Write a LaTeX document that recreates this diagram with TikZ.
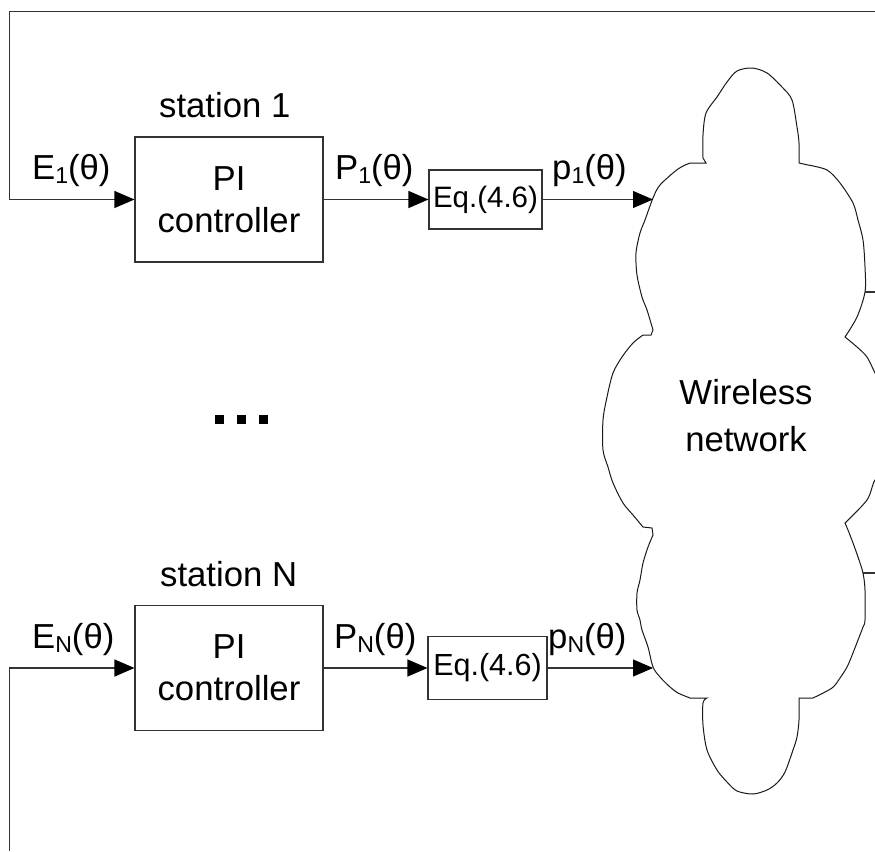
\documentclass[tikz,border=0pt]{standalone}
\usepackage{fontspec}
\setmainfont{Liberation Sans}
\usetikzlibrary{arrows.meta}
\newcommand\lowsub[1]{\raisebox{-0.14em}{\fontsize{23}{23}\selectfont #1}}
\tikzset{
  ln/.style={draw=black!80, line width=1.1pt},
  arr/.style={ln, -{Triangle[length=20pt,width=17pt,black]}},
  lab/.style={inner sep=0pt, font=\fontsize{34.7}{42}\selectfont},
  pibox/.style={ln, rectangle, minimum width=188pt, minimum height=125pt,
    inner sep=0pt, align=center, font=\fontsize{34.7}{42}\selectfont},
  eqbox/.style={ln, rectangle, inner sep=0pt}
}
\begin{document}
\begin{tikzpicture}[x=1pt, y=-1pt]
\useasboundingbox (0,0) rectangle (875,851);
\fill[white] (0,0) rectangle (875,851);
\clip (0,0) rectangle (875,851);

% cloud: wireless network
\draw[black!90, line width=1pt]
  (706,163) -- (703,158)
  -- plot[smooth, tension=0.5] coordinates {(703,158) (703,135) (706,113) (717,97) (727,82) (737,71) (752,68) (767,73) (782,87) (792,100) (797,127) (799,143) (799,163)}
  -- plot[smooth, tension=0.5] coordinates {(808,165) (827,170) (840,183) (853,203) (858,220) (863,240) (865,267) (865,292) (857,317) (845,337)}
  -- plot[smooth, tension=0.5] coordinates {(845,337) (857,347) (867,357) (875,373) (886,395) (896,420) (898,450) (888,470) (875,480) (867,500) (845,523)}
  -- plot[smooth, tension=0.5] coordinates {(845,523) (848,530) (853,543) (858,557) (863,573) (865,590) (865,620) (863,627) (858,640) (848,665) (840,678) (832,688) (813,698)}
  -- plot[smooth, tension=0.5] coordinates {(799,698) (799,720) (797,737) (793,750) (785,772) (777,783) (767,790) (753,794) (737,791) (727,782) (717,770) (707,750) (703,725) (703,703) (707,698)}
  -- plot[smooth, tension=0.5] coordinates {(690,698) (678,693) (670,687) (660,677) (653,667) (648,647) (642,630) (640,620) (637,610) (637,593) (640,580) (643,563) (648,547) (653,535)}
  -- (652,528)
  -- plot[smooth, tension=0.5] coordinates {(643,527) (633,515) (623,503) (613,483) (608,467) (603,450) (603,420) (607,397) (613,373) (622,357) (633,343) (643,335)}
  -- (651,335)
  -- plot[smooth, tension=0.5] coordinates {(653,330) (647,310) (642,297) (637,275) (636,253) (640,233) (645,220) (653,198) (660,185) (678,169) (690,163)}
  -- cycle;
\node[lab, align=center, font=\fontsize{34.7}{47}\selectfont] (net) at (746,416) {Wireless\\network};

% points where the arrows meet the cloud, and its outputs
\coordinate (in1) at (653,199.5);
\coordinate (inN) at (653,668);
\coordinate (out1) at (865,292);
\coordinate (out1r) at (875,292);
\coordinate (outN) at (863,573);
\coordinate (outNr) at (875,573);
\draw[ln] (out1) -- (out1r);
\draw[ln] (outN) -- (outNr);

% station 1
\node[pibox] (pi1) at (229,199.5) {PI\\controller};
\node[eqbox, minimum width=113pt, minimum height=59pt] (eq1) at (485.5,199.5)
  {\fontsize{29.5}{32}\selectfont Eq.(4.6)};
\node[lab, anchor=base west] (st1) at (159,117) {station 1};
\node[lab, anchor=base west] (e1) at (32,179) {E\lowsub{1}(θ)};
\node[lab, anchor=base west] (bp1) at (335,179) {P\lowsub{1}(θ)};
\node[lab, anchor=base west] (sp1) at (552,179) {p\lowsub{1}(θ)};

% station N
\node[pibox] (piN) at (229,668) {PI\\controller};
\node[eqbox, minimum width=119pt, minimum height=63pt] (eqN) at (487.5,668)
  {\fontsize{30.5}{34}\selectfont Eq.(4.6)};
\node[lab, anchor=base west] (stN) at (160,586) {station N};
\node[lab, anchor=base west] (eN) at (32,648) {E\lowsub{N}(θ)};
\node[lab, anchor=base west] (bpN) at (334,648) {P\lowsub{N}(θ)};
\node[lab, anchor=base west] (spN) at (548,648) {p\lowsub{N}(θ)};

% ellipsis between the stations
\fill (215,415) rectangle (224,424);
\fill (237,415) rectangle (246,424);
\fill (259,415) rectangle (268,424);

% feedback lines
\coordinate (topR) at (875,11.5);
\coordinate (topL) at (9.7,11.5);
\coordinate (botL) at (9.7,851);
\draw[arr] (topR) -- (topL) |- (pi1.west);
\draw[arr] (botL) |- (piN.west);

% signal path
\draw[arr] (pi1.east) -- (eq1.west);
\draw[arr] (eq1.east) -- (in1);
\draw[arr] (piN.east) -- (eqN.west);
\draw[arr] (eqN.east) -- (inN);
\end{tikzpicture}
\end{document}
